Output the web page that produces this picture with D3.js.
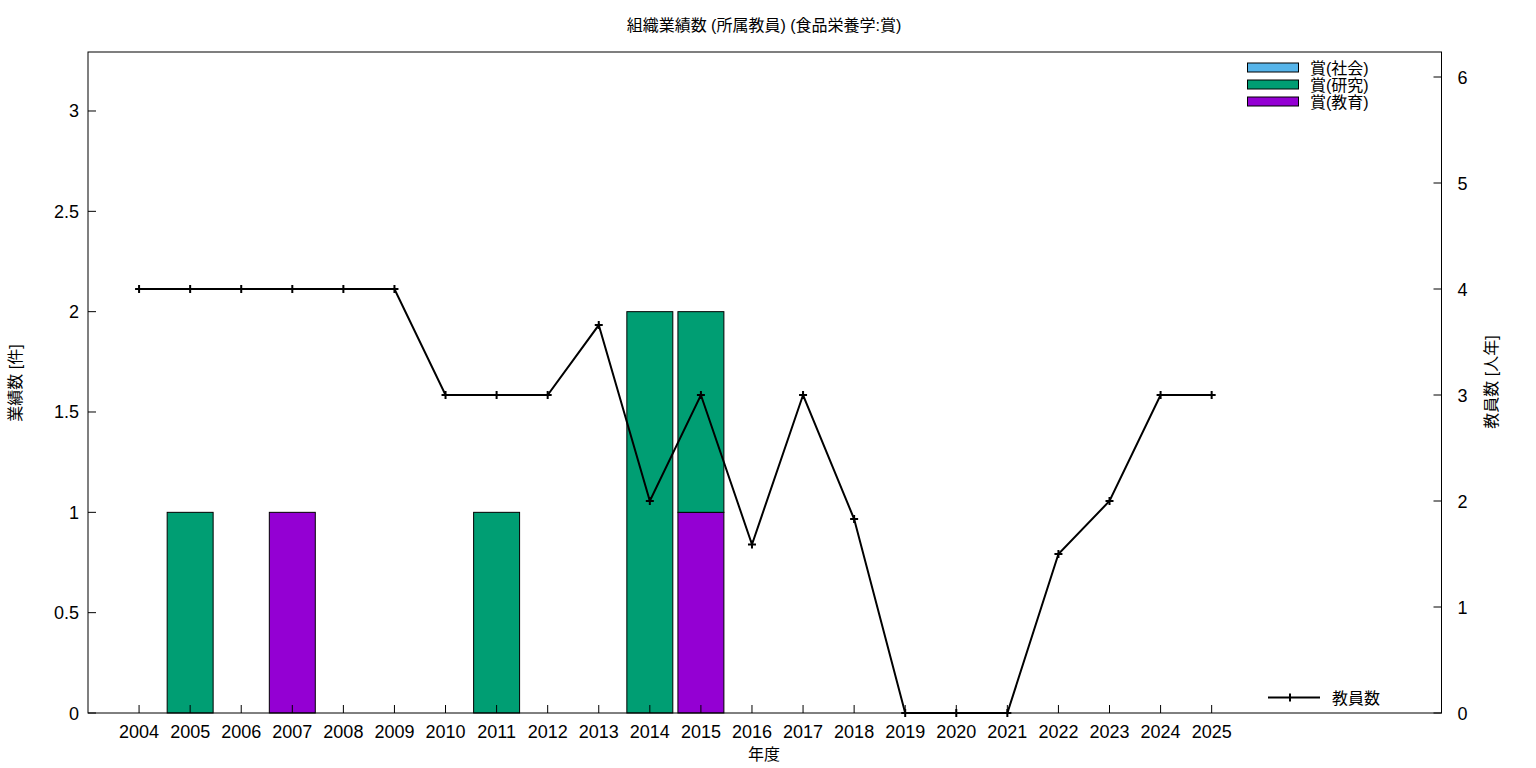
<!DOCTYPE html>
<html><head><meta charset="utf-8">
<script src="https://cdn.jsdelivr.net/npm/d3@7"></script>
<style>body{margin:0;background:#fff}svg{display:block}text{font-family:"Liberation Sans","Noto Sans CJK JP",sans-serif;fill:#000}</style>
</head><body>
<svg id="c" width="1536" height="768"></svg>
<script>
const years = ["2004","2005","2006","2007","2008","2009","2010","2011","2012","2013","2014","2015","2016","2017","2018","2019","2020","2021","2022","2023","2024","2025"];
const awardSocial   = [0,0,0,0,0,0,0,0,0,0,0,0,0,0,0,0,0,0,0,0,0,0];
const awardResearch = [0,1,0,0,0,0,0,1,0,0,2,1,0,0,0,0,0,0,0,0,0,0];
const awardEducation= [0,0,0,1,0,0,0,0,0,0,0,1,0,0,0,0,0,0,0,0,0,0];
const staff = [4,4,4,4,4,4,3,3,3,3.66,2,3,1.59,3,1.83,0,0,0,1.5,2,3,3];
const leftTicks = [0,0.5,1,1.5,2,2.5,3];
const rightTicks = [0,1,2,3,4,5,6];
const seriesNames = ["賞(社会)","賞(研究)","賞(教育)"];
const seriesColors = ["#56b4e9","#009e73","#9400d3"];

const svg = d3.select("#c");
const L=88, R=1441.5, T=52, B=713;
const x = d3.scaleLinear().domain([-1,25.5]).range([L,R]);
const y = d3.scaleLinear().domain([0,3.294]).range([B,T]);
const y2 = d3.scaleLinear().domain([0,6.236]).range([B,T]);

const stackOrder = [awardEducation, awardResearch, awardSocial];
const stackColors = ["#9400d3","#009e73","#56b4e9"];
const bw = x(0.45)-x(0);
years.forEach((yr,i)=>{
  let base=0;
  stackOrder.forEach((arr,k)=>{
    const v=arr[i];
    if(v>0){
      svg.append("rect").attr("x",x(i)-bw).attr("width",2*bw)
        .attr("y",y(base+v)).attr("height",y(base)-y(base+v))
        .attr("fill",stackColors[k]).attr("stroke","#000").attr("stroke-width",1);
    }
    base+=v;
  });
});

svg.append("rect").attr("x",L).attr("y",T).attr("width",R-L).attr("height",B-T)
  .attr("fill","none").attr("stroke","#000").attr("stroke-width",1);

years.forEach((yr,i)=>{
  svg.append("line").attr("x1",x(i)).attr("x2",x(i)).attr("y1",B).attr("y2",B-8).attr("stroke","#000");
  svg.append("text").attr("x",x(i)).attr("y",B+25).attr("text-anchor","middle").attr("font-size",18).text(yr);
});
leftTicks.forEach(t=>{
  svg.append("line").attr("x1",L).attr("x2",L+8).attr("y1",y(t)).attr("y2",y(t)).attr("stroke","#000");
  svg.append("text").attr("x",L-9).attr("y",y(t)+6.5).attr("text-anchor","end").attr("font-size",18).text(String(t));
});
rightTicks.forEach(t=>{
  svg.append("line").attr("x1",R).attr("x2",R-8).attr("y1",y2(t)).attr("y2",y2(t)).attr("stroke","#000");
  svg.append("text").attr("x",R+16).attr("y",y2(t)+6.5).attr("text-anchor","start").attr("font-size",18).text(String(t));
});

const line = d3.line().x((d,i)=>x(i)).y(d=>y2(d));
svg.append("path").datum(staff).attr("d",line).attr("fill","none").attr("stroke","#000").attr("stroke-width",2);
staff.forEach((d,i)=>{
  const cx=x(i), cy=y2(d);
  svg.append("path").attr("d",`M${cx-4},${cy}H${cx+4}M${cx},${cy-4}V${cy+4}`).attr("stroke","#000").attr("stroke-width",2);
});

svg.append("text").attr("x",764).attr("y",31).attr("text-anchor","middle").attr("font-size",16).text("組織業績数 (所属教員) (食品栄養学:賞)");
svg.append("text").attr("x",764).attr("y",760).attr("text-anchor","middle").attr("font-size",16).text("年度");
svg.append("text").attr("transform","translate(21,383) rotate(-90)").attr("text-anchor","middle").attr("font-size",16).text("業績数 [件]");
svg.append("text").attr("transform","translate(1497,382) rotate(-90)").attr("text-anchor","middle").attr("font-size",16).text("教員数 [人年]");

seriesNames.forEach((n,k)=>{
  const cy = 67.5 + k*17;
  svg.append("rect").attr("x",1247.5).attr("y",cy-4.5).attr("width",51).attr("height",9)
    .attr("fill",seriesColors[k]).attr("stroke","#000").attr("stroke-width",1);
  svg.append("text").attr("x",1310).attr("y",cy+6).attr("font-size",16).text(n);
});
const ly=697.5;
svg.append("line").attr("x1",1268).attr("x2",1320).attr("y1",ly).attr("y2",ly).attr("stroke","#000").attr("stroke-width",2);
svg.append("path").attr("d",`M1290,${ly-4}V${ly+4}`).attr("stroke","#000").attr("stroke-width",2);
svg.append("text").attr("x",1332).attr("y",ly+6).attr("font-size",16).text("教員数");
</script>
</body></html>
